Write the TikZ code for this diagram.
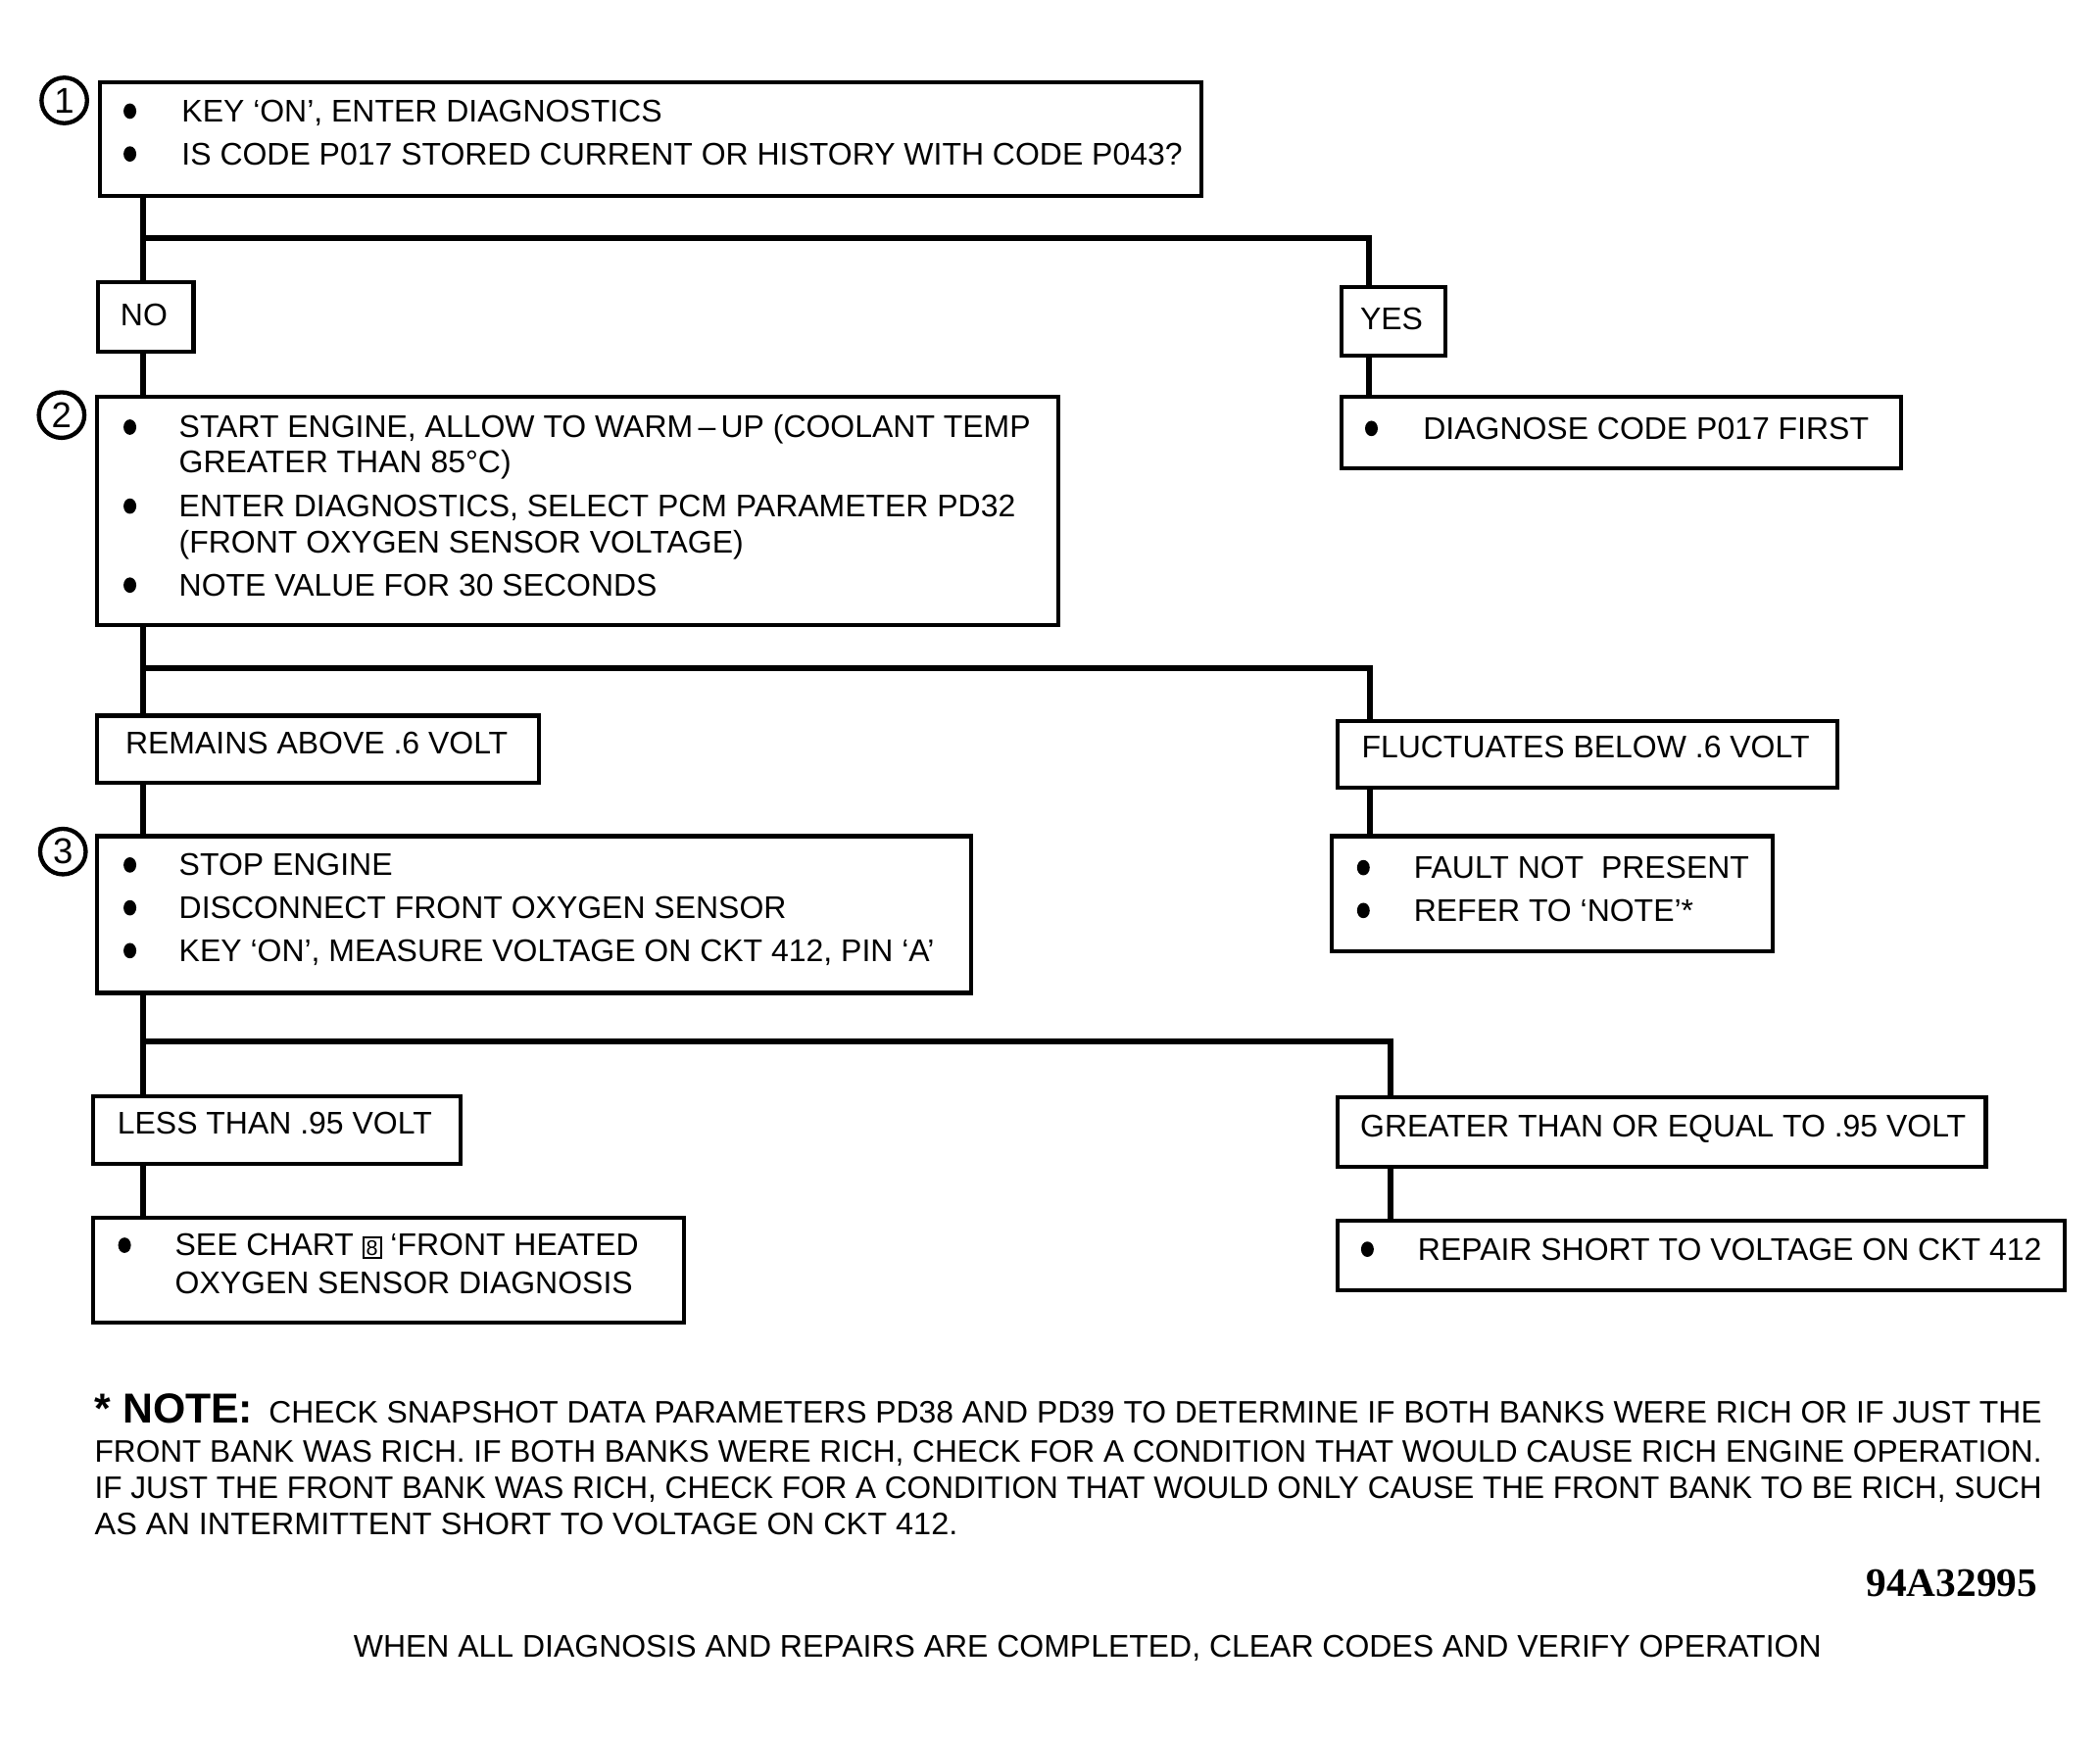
\documentclass[tikz,border=0pt]{standalone}
\usepackage{fontspec}
\setmainfont{Liberation Sans}
\newfontfamily\idfont{Liberation Serif}
\usetikzlibrary{shapes.geometric}
\newcommand\fs{\fontsize{6.65}{8}\selectfont}
\newcommand\notefs{\fontsize{6.6}{8}\selectfont}
\begin{document}
\begin{tikzpicture}[x=0.01cm,y=-0.01cm,
  box/.style={draw,line width=0.85pt,rectangle,inner sep=0pt,anchor=north west},
  conn/.style={line width=1.3pt},
  txt/.style={anchor=base west,inner sep=0pt,font=\fs},
  ctxt/.style={anchor=base,inner sep=0pt,font=\fs},
  bul/.style={ellipse,fill,inner sep=0pt,minimum width=0.095cm,minimum height=0.115cm},
  stepnum/.style={circle,draw,line width=0.9pt,minimum size=0.34cm,inner sep=0pt,font=\fontsize{7.6}{8}\selectfont}]
\useasboundingbox (0,0) rectangle (1568,1297);

% step circles
\node[stepnum] (c1) at (48,75) {1};
\node[stepnum] (c2) at (46,310) {2};
\node[stepnum] (c3) at (47,636) {3};

% boxes
\node[box,minimum width=8.22cm,minimum height=0.85cm] (b1) at (73,60) {};
\node[box,minimum width=0.71cm,minimum height=0.52cm] (no) at (72,209) {};
\node[box,minimum width=0.78cm,minimum height=0.51cm] (yes) at (1000,213) {};
\node[box,minimum width=4.18cm,minimum height=0.53cm] (dg) at (1000,295) {};
\node[box,minimum width=7.17cm,minimum height=1.70cm] (b2) at (71,295) {};
\node[box,minimum width=3.30cm,minimum height=0.50cm] (rem) at (71,533) {};
\node[box,minimum width=3.73cm,minimum height=0.50cm] (fl) at (997,537) {};
\node[box,minimum width=3.29cm,minimum height=0.86cm] (fault) at (993,623) {};
\node[box,minimum width=6.52cm,minimum height=1.17cm] (b3) at (71,623) {};
\node[box,minimum width=2.74cm,minimum height=0.51cm] (less) at (68,817) {};
\node[box,minimum width=4.84cm,minimum height=0.52cm] (gr) at (997,818) {};
\node[box,minimum width=4.41cm,minimum height=0.78cm] (see) at (68,908) {};
\node[box,minimum width=5.43cm,minimum height=0.52cm] (rep) at (997,910) {};

% connectors
\coordinate (j1) at (107,178); \coordinate (j1r) at (1022,178);
\draw[conn] (b1.south -| j1) -- (no.north -| j1);
\draw[conn] (j1) -- (j1r) -- (yes.north -| j1r);
\draw[conn] (no.south -| j1) -- (b2.north -| j1);
\draw[conn] (yes.south -| j1r) -- (dg.north -| j1r);
\coordinate (j2) at (107,499); \coordinate (j2r) at (1023,499);
\draw[conn] (b2.south -| j2) -- (rem.north -| j2);
\draw[conn] (j2) -- (j2r) -- (fl.north -| j2r);
\draw[conn] (rem.south -| j2) -- (b3.north -| j2);
\draw[conn] (fl.south -| j2r) -- (fault.north -| j2r);
\coordinate (j3) at (107,778); \coordinate (j3r) at (1038,778);
\draw[conn] (b3.south -| j3) -- (less.north -| j3);
\draw[conn] (j3) -- (j3r) -- (gr.north -| j3r);
\draw[conn] (less.south -| j3) -- (see.north -| j3);
\draw[conn] (gr.south -| j3r) -- (rep.north -| j3r);

% box 1 text
\node[bul] (u1a) at (97,83) {};
\node[bul] (u1b) at (97,115) {};
\node[txt] (t1a) at (135,91) {KEY ‘ON’, ENTER DIAGNOSTICS};
\node[txt] (t1b) at (135,123) {IS CODE P017 STORED CURRENT OR HISTORY WITH CODE P043?};

\node[ctxt] (tno) at (107.5,243) {NO};
\node[ctxt] (tyes) at (1039,246) {YES};

\node[bul] (udg) at (1024,320) {};
\node[txt] (tdg) at (1062,328) {DIAGNOSE CODE P017 FIRST};

% box 2 text
\node[bul] (u2a) at (97,319) {};
\node[bul] (u2b) at (97,378) {};
\node[bul] (u2c) at (97,437) {};
\node[txt] (t2a) at (133,327) {START ENGINE, ALLOW TO WARM\,–\,UP (COOLANT TEMP};
\node[txt] (t2b) at (133,353) {GREATER THAN 85°C)};
\node[txt] (t2c) at (133,386) {ENTER DIAGNOSTICS, SELECT PCM PARAMETER PD32};
\node[txt] (t2d) at (133,413) {(FRONT OXYGEN SENSOR VOLTAGE)};
\node[txt] (t2e) at (133,445) {NOTE VALUE FOR 30 SECONDS};

\node[txt] (trem) at (93,563) {REMAINS ABOVE .6 VOLT};
\node[txt] (tfl) at (1016,566) {FLUCTUATES BELOW .6 VOLT};

\node[bul] (ufa) at (1018,648) {};
\node[bul] (ufb) at (1018,680) {};
\node[txt] (tfa) at (1055,656) {FAULT NOT\ \ PRESENT};
\node[txt] (tfb) at (1055,688) {REFER TO ‘NOTE’*};

% box 3 text
\node[bul] (u3a) at (97,646) {};
\node[bul] (u3b) at (97,678) {};
\node[bul] (u3c) at (97,710) {};
\node[txt] (t3a) at (133,654) {STOP ENGINE};
\node[txt] (t3b) at (133,686) {DISCONNECT FRONT OXYGEN SENSOR};
\node[txt] (t3c) at (133,718) {KEY ‘ON’, MEASURE VOLTAGE ON CKT 412, PIN ‘A’};

\node[txt] (tless) at (87,847) {LESS THAN .95 VOLT};
\node[txt] (tgr) at (1015,849) {GREATER THAN OR EQUAL TO .95 VOLT};

\node[bul] (usee) at (93,930) {};
\node[txt] (tsa) at (130,938) {SEE CHART {\setlength\fboxsep{0.4pt}\setlength\fboxrule{0.4pt}\raisebox{0.2pt}{\fbox{\fontsize{4.5}{5}\selectfont 8}}} ‘FRONT HEATED};
\node[txt] (tsb) at (130,966) {OXYGEN SENSOR DIAGNOSIS};

\node[bul] (urep) at (1021,933) {};
\node[txt] (trep) at (1058,941) {REPAIR SHORT TO VOLTAGE ON CKT 412};

% note
\node[anchor=base west,inner sep=0pt,font=\bfseries\fontsize{8.9}{9}\selectfont] (nh) at (70,1063) {* NOTE:};
\node[anchor=base west,inner sep=0pt,font=\notefs] (n1) at (200,1063) {\resizebox{13.23cm}{\height}{CHECK SNAPSHOT DATA PARAMETERS PD38 AND PD39 TO DETERMINE IF BOTH BANKS WERE RICH OR IF JUST THE}};
\node[anchor=base west,inner sep=0pt,font=\notefs] (n2) at (70,1092) {\resizebox{14.53cm}{\height}{FRONT BANK WAS RICH. IF BOTH BANKS WERE RICH, CHECK FOR A CONDITION THAT WOULD CAUSE RICH ENGINE OPERATION.}};
\node[anchor=base west,inner sep=0pt,font=\notefs] (n3) at (70,1119) {\resizebox{14.53cm}{\height}{IF JUST THE FRONT BANK WAS RICH, CHECK FOR A CONDITION THAT WOULD ONLY CAUSE THE FRONT BANK TO BE RICH, SUCH}};
\node[anchor=base west,inner sep=0pt,font=\notefs] (n4) at (70,1146) {\resizebox{6.44cm}{\height}{AS AN INTERMITTENT SHORT TO VOLTAGE ON CKT 412.}};

\node[anchor=base east,inner sep=0pt,font=\idfont\bfseries\fontsize{8.6}{9}\selectfont] (id) at (1522,1192) {94A32995};

\node[anchor=base,inner sep=0pt,font=\fs] (foot) at (812,1238) {WHEN ALL DIAGNOSIS AND REPAIRS ARE COMPLETED, CLEAR CODES AND VERIFY OPERATION};
\end{tikzpicture}
\end{document}
